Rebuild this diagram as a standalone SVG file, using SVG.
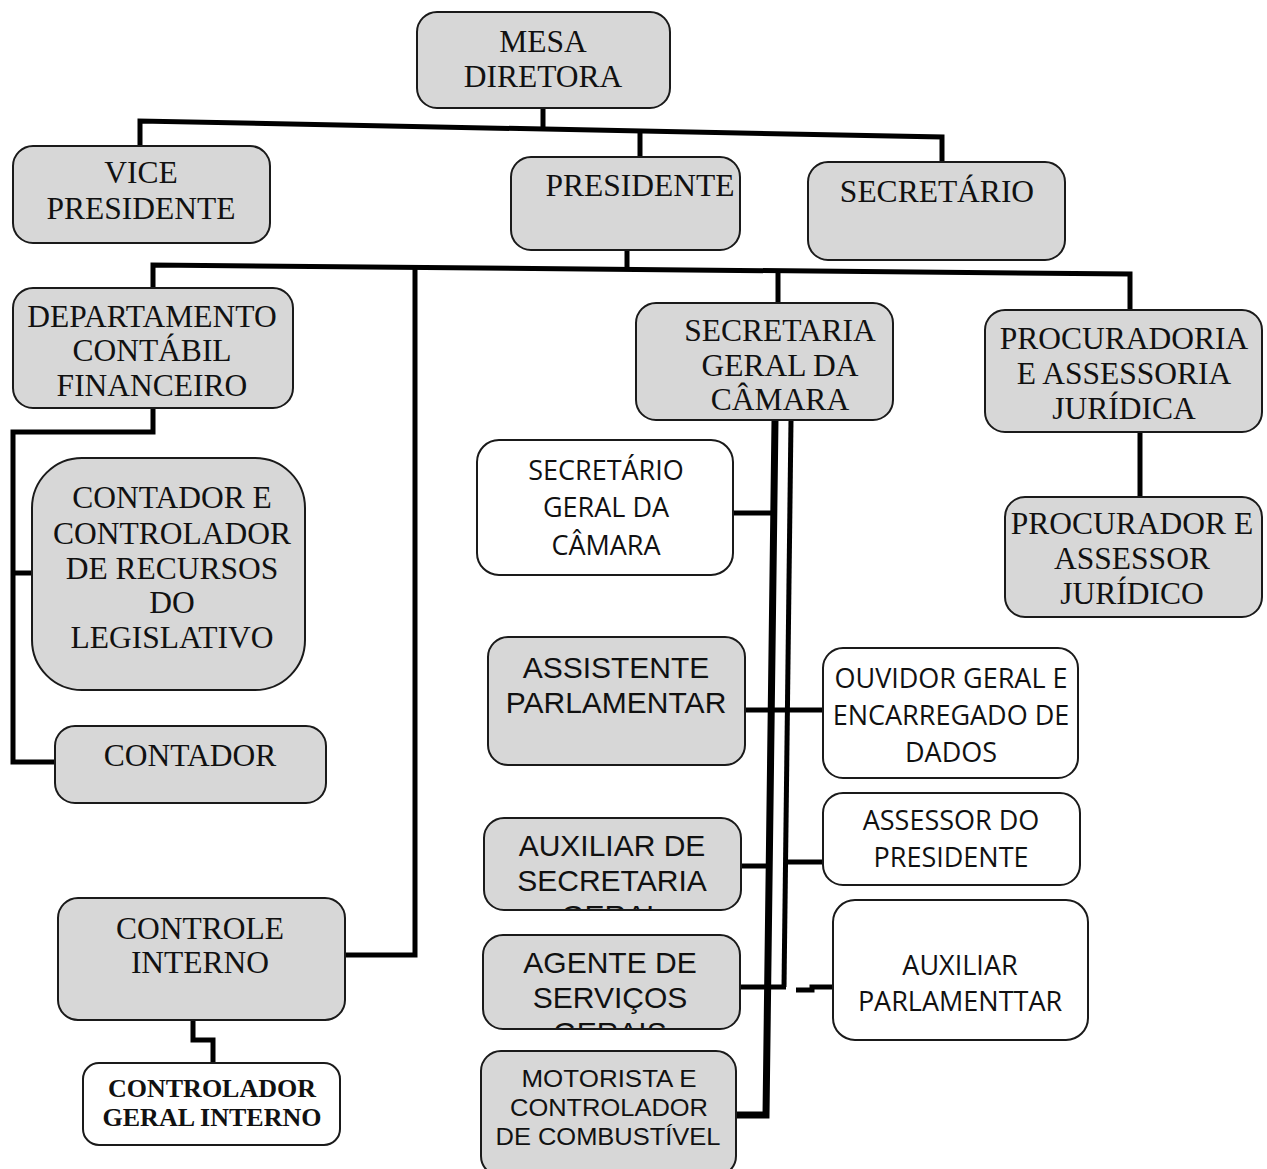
<svg xmlns="http://www.w3.org/2000/svg" width="1267" height="1169" viewBox="0 0 1267 1169">
<defs>
<style>
.g{fill:#d7d7d7;stroke:#1a1a1a;stroke-width:2}
.w{fill:#ffffff;stroke:#1a1a1a;stroke-width:2}
.s{font-family:"Liberation Serif","Times New Roman",serif;font-size:31.5px;fill:#111;text-anchor:middle}
.sb{font-family:"Liberation Serif","Times New Roman",serif;font-size:26px;font-weight:bold;fill:#111;text-anchor:middle}
.a{font-family:"Liberation Sans",Arial,sans-serif;font-size:30px;fill:#111;text-anchor:middle}
.m{font-family:"Liberation Sans",Arial,sans-serif;font-size:24px;fill:#111;text-anchor:middle}
.c{font-family:"Open Sans","Liberation Sans",sans-serif;font-size:27px;fill:#111;text-anchor:middle}
.conn path{fill:none;stroke:#000;stroke-width:5;stroke-linejoin:miter}
</style>
<clipPath id="clipAux"><rect x="485" y="819" width="255" height="90" rx="20"/></clipPath>
<clipPath id="clipAg"><rect x="484" y="936" width="255" height="92" rx="20"/></clipPath>
</defs>
<rect width="1267" height="1169" fill="#ffffff"/>

<g class="conn">
<path d="M543,108 V127"/>
<path d="M140,146 V121 L942,137 V162"/>
<path d="M640,129 V157"/>
<path d="M627,250 V268"/>
<path d="M153,290 V265 L1130,274 V310"/>
<path d="M778,270 V303"/>
<path d="M415,268 V955 H345"/>
<path d="M153,408 V432 H13 V762 H55"/>
<path d="M13,573 H33"/>
<path d="M1140,432 V497"/>
<path d="M193,1020 V1040 H213 V1063"/>
<path d="M775,420 L766,1115 H736" style="stroke-width:7"/>
<path d="M791,420 L784,987"/>
<path d="M733,513 H773"/>
<path d="M745,710 H823"/>
<path d="M741,866 H770"/>
<path d="M787,862 H823"/>
<path d="M740,987 H786"/>
<path d="M796,990 H812 V987 H833"/>
</g>

<g id="mesa-diretora"><rect class="g" x="417" y="12" width="253" height="96" rx="20"/><text class="s" x="543" y="52">MESA</text><text class="s" x="543" y="87">DIRETORA</text></g>
<g id="vice-presidente"><rect class="g" x="13" y="146" width="257" height="97" rx="20"/><text class="s" x="141" y="183">VICE</text><text class="s" x="141" y="219">PRESIDENTE</text></g>
<g id="presidente"><rect class="g" x="511" y="157" width="229" height="93" rx="20"/><text class="s" x="640" y="196">PRESIDENTE</text></g>
<g id="secretario"><rect class="g" x="808" y="162" width="257" height="98" rx="20"/><text class="s" x="937" y="202">SECRETÁRIO</text></g>
<g id="departamento"><rect class="g" x="13" y="288" width="280" height="120" rx="20"/><text class="s" x="152" y="327">DEPARTAMENTO</text><text class="s" x="152" y="361">CONTÁBIL</text><text class="s" x="152" y="396">FINANCEIRO</text></g>
<g id="secretaria-geral"><rect class="g" x="636" y="303" width="257" height="117" rx="20"/><text class="s" x="780" y="341">SECRETARIA</text><text class="s" x="780" y="376">GERAL DA</text><text class="s" x="780" y="410">CÂMARA</text></g>
<g id="procuradoria"><rect class="g" x="985" y="310" width="277" height="122" rx="20"/><text class="s" x="1124" y="349">PROCURADORIA</text><text class="s" x="1124" y="384">E ASSESSORIA</text><text class="s" x="1124" y="419">JURÍDICA</text></g>
<g id="procurador"><rect class="g" x="1005" y="497" width="257" height="120" rx="20"/><text class="s" x="1132" y="534">PROCURADOR E</text><text class="s" x="1132" y="569">ASSESSOR</text><text class="s" x="1132" y="604">JURÍDICO</text></g>
<g id="contador-controlador"><rect class="g" x="32" y="458" width="273" height="232" rx="50"/><text class="s" x="172" y="508">CONTADOR E</text><text class="s" x="172" y="544">CONTROLADOR</text><text class="s" x="172" y="579">DE RECURSOS</text><text class="s" x="172" y="613">DO</text><text class="s" x="172" y="648">LEGISLATIVO</text></g>
<g id="contador"><rect class="g" x="55" y="726" width="271" height="77" rx="20"/><text class="s" x="190" y="766">CONTADOR</text></g>
<g id="controle-interno"><rect class="g" x="58" y="898" width="287" height="122" rx="20"/><text class="s" x="200" y="939">CONTROLE</text><text class="s" x="200" y="973">INTERNO</text></g>
<g id="controlador-geral"><rect class="w" x="83" y="1063" width="257" height="82" rx="16"/><text class="sb" x="212" y="1097">CONTROLADOR</text><text class="sb" x="212" y="1126">GERAL INTERNO</text></g>

<g id="secretario-geral"><rect class="w" x="477" y="440" width="256" height="135" rx="22"/><text class="c" x="606" y="480">SECRETÁRIO</text><text class="c" x="606" y="517">GERAL DA</text><text class="c" x="606" y="555">CÂMARA</text></g>
<g id="assistente"><rect class="g" x="488" y="637" width="257" height="128" rx="20"/><text class="a" x="616" y="678">ASSISTENTE</text><text class="a" x="616" y="713">PARLAMENTAR</text></g>
<g id="auxiliar-secretaria"><rect class="g" x="484" y="818" width="257" height="92" rx="20"/><g clip-path="url(#clipAux)"><text class="a" x="612" y="856">AUXILIAR DE</text><text class="a" x="612" y="891">SECRETARIA</text><text class="a" x="612" y="926">GERAL</text></g></g>
<g id="agente"><rect class="g" x="483" y="935" width="257" height="94" rx="20"/><g clip-path="url(#clipAg)"><text class="a" x="610" y="973">AGENTE DE</text><text class="a" x="610" y="1008">SERVIÇOS</text><text class="a" x="610" y="1043">GERAIS</text></g></g>
<g id="motorista"><rect class="g" x="481" y="1051" width="255" height="125" rx="20"/><text class="m" x="609" y="1087" textLength="175" lengthAdjust="spacingAndGlyphs">MOTORISTA E</text><text class="m" x="609" y="1116" textLength="198" lengthAdjust="spacingAndGlyphs">CONTROLADOR</text><text class="m" x="608" y="1145" textLength="225" lengthAdjust="spacingAndGlyphs">DE COMBUSTÍVEL</text></g>

<g id="ouvidor"><rect class="w" x="823" y="648" width="255" height="130" rx="20"/><text class="c" x="951" y="688">OUVIDOR GERAL E</text><text class="c" x="951" y="725">ENCARREGADO DE</text><text class="c" x="951" y="762">DADOS</text></g>
<g id="assessor-presidente"><rect class="w" x="823" y="793" width="257" height="92" rx="20"/><text class="c" x="951" y="830">ASSESSOR DO</text><text class="c" x="951" y="867">PRESIDENTE</text></g>
<g id="auxiliar-parlamentar"><rect class="w" x="833" y="900" width="255" height="140" rx="22"/><text class="c" x="960" y="975">AUXILIAR</text><text class="c" x="960" y="1011">PARLAMENTTAR</text></g>
</svg>
